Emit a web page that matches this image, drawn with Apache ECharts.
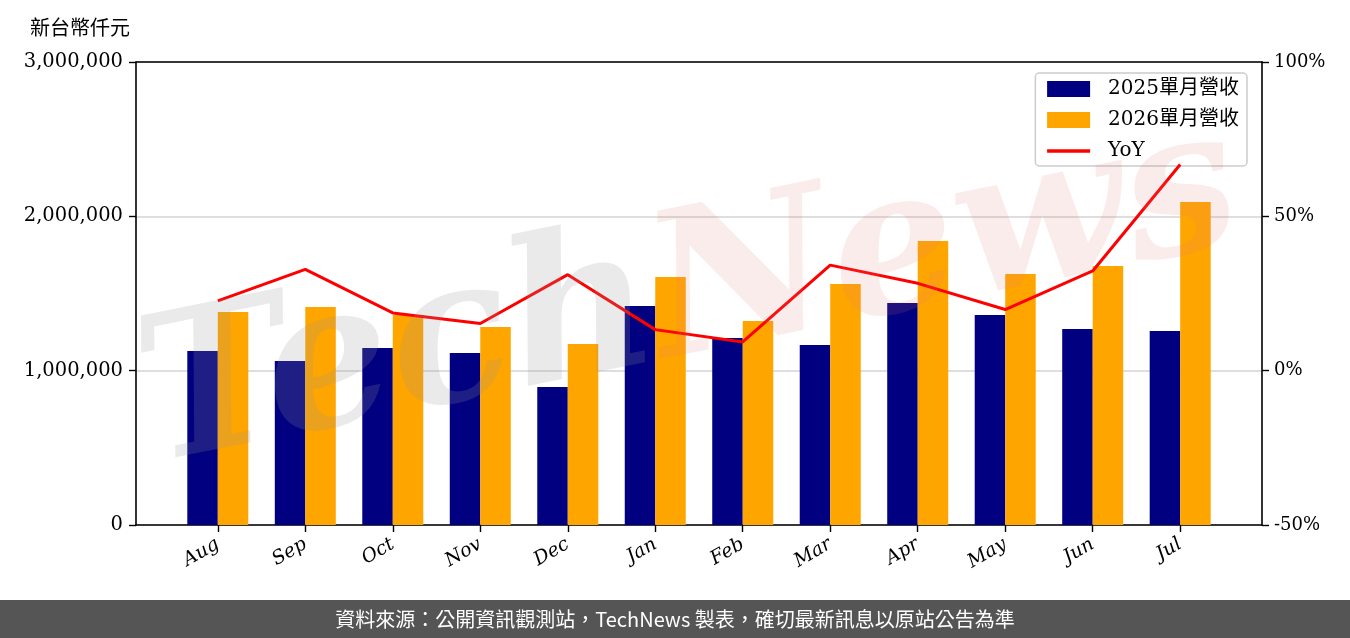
<!DOCTYPE html>
<html>
<head>
<meta charset="utf-8">
<script src="https://cdn.jsdelivr.net/npm/echarts@6/dist/echarts.min.js"></script>
<style>
html,body{margin:0;padding:0;background:#fff;}
#main{width:1350px;height:638px;}
</style>
</head>
<body>
<div id="main"></div>
<script>
const months = ['Aug','Sep','Oct','Nov','Dec','Jan','Feb','Mar','Apr','May','Jun','Jul'];
const rev2025 = [1127000,1063000,1147000,1114000,894000,1419000,1212000,1166000,1438000,1361000,1270000,1257000];
const rev2026 = [1380000,1413000,1361000,1283000,1173000,1607000,1322000,1562000,1840000,1626000,1678000,2093000];
const yoy = [22.6,32.8,18.7,15.3,31.1,13.3,9.3,34.2,28.3,19.8,32.3,66.8];
const leftTicks = [0,1000000,2000000,3000000];
const rightTicks = [-50,0,50,100];
const seriesNames = ['2025單月營收','2026單月營收','YoY'];
const unitLabel = '新台幣仟元';
const footerText = '資料來源：公開資訊觀測站，TechNews 製表，確切最新訊息以原站公告為準';

const serif = 'DejaVu Serif, Liberation Serif, Noto Sans CJK TC';
const idx = months.map((m,i)=>i);
const chart = echarts.init(document.getElementById('main'), null, {renderer:'canvas'});
const axisLineStyle = {color:'#000', width:1.6};
chart.setOption({
  animation:false,
  backgroundColor:'#fff',
  grid:{left:136,right:88,top:62,bottom:113,containLabel:false},
  legend:{
    right:103, top:73,
    orient:'vertical',
    backgroundColor:'#fff',
    borderColor:'#cccccc', borderWidth:1.5, borderRadius:4,
    padding:[6,8,5,10],
    itemWidth:43, itemHeight:16, itemGap:11,
    textStyle:{fontFamily:serif, fontSize:20, color:'#000', padding:[0,0,0,13]},
    data:[
      {name:seriesNames[0],icon:'rect'},
      {name:seriesNames[1],icon:'rect'},
      {name:seriesNames[2],itemStyle:{color:'rgba(0,0,0,0)',opacity:0,borderWidth:0},lineStyle:{color:'#ff0000',width:3.5}}
    ]
  },
  xAxis:[{
    type:'value', min:-0.935, max:11.935,
    axisLine:{show:true,lineStyle:axisLineStyle,onZero:false},
    axisTick:{show:true,length:7,inside:false,customValues:idx,lineStyle:{color:'#000',width:1.4}},
    axisLabel:{customValues:idx, rotate:30, margin:18, fontFamily:serif, fontStyle:'italic', fontSize:19, color:'#000',
      formatter:v=>months[Math.round(v)]},
    splitLine:{show:false}
  },{
    type:'value', position:'top', min:-0.935, max:11.935,
    axisLine:{show:true,lineStyle:axisLineStyle,onZero:false},
    axisTick:{show:false}, axisLabel:{show:false}, splitLine:{show:false}
  }],
  yAxis:[{
    type:'value', min:leftTicks[0], max:leftTicks[leftTicks.length-1], interval:1000000,
    name:unitLabel, nameLocation:'end', nameGap:0,
    nameTextStyle:{fontFamily:'Noto Sans CJK TC', fontSize:20, color:'#000', align:'left', verticalAlign:'bottom', padding:[0,0,25,-106]},
    axisLine:{show:true,lineStyle:axisLineStyle,onZero:false},
    axisTick:{show:true,length:7,lineStyle:{color:'#000',width:1.4}},
    axisLabel:{margin:13, fontFamily:serif, fontSize:19.5, color:'#000',
      formatter:v=>v.toLocaleString('en-US')},
    splitLine:{show:true,lineStyle:{color:'#d3d3d3',width:1.5}}
  },{
    type:'value', position:'right', min:rightTicks[0], max:rightTicks[rightTicks.length-1], interval:50,
    axisLine:{show:true,lineStyle:axisLineStyle,onZero:false},
    axisTick:{show:true,length:7,lineStyle:{color:'#000',width:1.4}},
    axisLabel:{margin:12, fontFamily:serif, fontSize:18, color:'#000', formatter:v=>v+'%'},
    splitLine:{show:false}
  }],
  series:[
    {name:seriesNames[0], type:'bar', xAxisIndex:0, yAxisIndex:0, barWidth:30.5, barGap:'0%',
     itemStyle:{color:'#000080'}, data:rev2025.map((v,i)=>[i,v])},
    {name:seriesNames[1], type:'bar', xAxisIndex:0, yAxisIndex:0, barWidth:30.5, barGap:'0%',
     itemStyle:{color:'#FFA500'}, data:rev2026.map((v,i)=>[i,v])},
    {name:seriesNames[2], type:'line', xAxisIndex:0, yAxisIndex:1, symbol:'none', z:5,
     lineStyle:{color:'#ff0000', width:3}, itemStyle:{color:'#ff0000'}, data:yoy.map((v,i)=>[i,v])}
  ],
  graphic:[
    {type:'text', x:690, y:300, rotation:0.2, z:100, silent:true,
     style:{text:'{a|Tech}{b|News}', align:'center', verticalAlign:'middle', rich:{
       a:{fontFamily:'DejaVu Serif', fontStyle:'italic', fontWeight:'bold', fontSize:200, fill:'rgba(150,150,150,0.2)'},
       b:{fontFamily:'DejaVu Serif', fontStyle:'italic', fontWeight:'bold', fontSize:200, fill:'rgba(225,120,120,0.14)'}}}},
    {type:'rect', left:0, bottom:0, shape:{width:1350,height:38}, style:{fill:'#555555'}, z:150},
    {type:'text', left:'center', bottom:9, z:151, style:{text:footerText, fill:'#fff', fontFamily:'Noto Sans CJK TC', fontSize:20}}
  ]
});
</script>
</body>
</html>
